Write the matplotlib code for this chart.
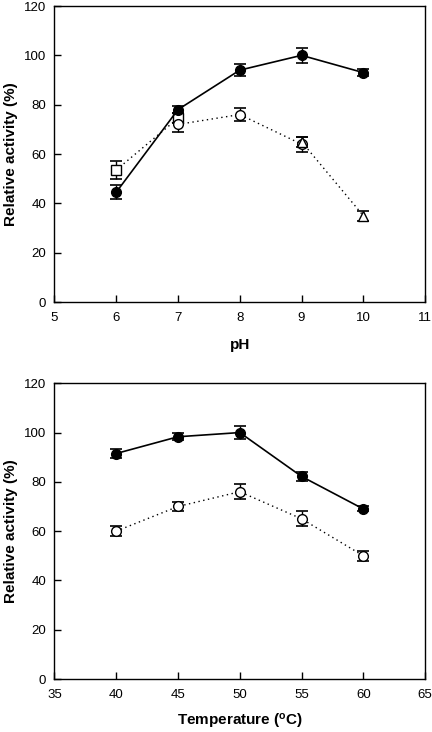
import matplotlib
matplotlib.use("Agg")
import matplotlib.pyplot as plt

plt.rcParams['font.family'] = ['Liberation Sans', 'DejaVu Sans']

# pH panel
ph = [6, 7, 8, 9, 10]
ph_act = [44.5, 78, 94, 100, 93]
ph_err = [2.8, 1.5, 2.5, 3.0, 1.5]

ph_sq = [6, 7]
ph_sq_act = [53.5, 74.5]
ph_sq_err = [3.5, 2.0]

ph_ci = [7, 8, 9]
ph_ci_act = [72, 76, 64]
ph_ci_err = [3.0, 2.5, 3.0]

ph_tr = [9, 10]
ph_tr_act = [65, 35]
ph_tr_err = [2.0, 2.0]

# temperature panel
temp = [40, 45, 50, 55, 60]
temp_act = [91.5, 98.3, 100, 82.2, 69]
temp_err = [2.0, 1.5, 2.5, 2.0, 1.0]
temp_open = [60, 70, 76, 65, 50]
temp_open_err = [2.0, 2.0, 3.0, 3.0, 2.0]

fig = plt.figure(figsize=(4.32, 7.32), dpi=100)
ax1 = fig.add_axes([0.126, 0.5874, 0.858, 0.4044])
ax2 = fig.add_axes([0.126, 0.0724, 0.858, 0.4040])

eb = dict(capsize=4.5, elinewidth=1, capthick=1.2, ecolor='black', markersize=7)
dots = (0, (1, 2.5))

def style(ax, xlim, xticks, xlabel, lpad):
    ax.set_xlim(*xlim)
    ax.set_ylim(0, 120)
    ax.set_xticks(xticks)
    ax.set_yticks(range(0, 121, 20))
    ax.tick_params(direction='in', length=5, width=1, labelsize=9.5)
    ax.tick_params(axis='x', pad=7)
    ax.tick_params(axis='y', pad=6)
    ax.set_xlabel(xlabel, fontsize=11, fontweight='bold', labelpad=lpad)
    ax.set_ylabel('Relative activity (%)', fontsize=11, fontweight='bold', labelpad=4)
    for s in ax.spines.values():
        s.set_linewidth(1)

ax1.errorbar(ph_sq, ph_sq_act, yerr=ph_sq_err, fmt='s', ls=dots, color='black',
             mfc='white', mec='black', lw=1, zorder=2, **eb)
ax1.errorbar(ph_ci, ph_ci_act, yerr=ph_ci_err, fmt='o', ls=dots, color='black',
             mfc='white', mec='black', lw=1, zorder=2, **eb)
ax1.errorbar(ph_tr, ph_tr_act, yerr=ph_tr_err, fmt='^', ls=dots, color='black',
             mfc='white', mec='black', lw=1, zorder=2, **eb)
ax1.errorbar(ph, ph_act, yerr=ph_err, fmt='o', ls='-', color='black',
             mfc='black', mec='black', lw=1.2, zorder=3, **eb)
style(ax1, (5, 11), range(5, 12), 'pH', 10)

ax2.errorbar(temp, temp_open, yerr=temp_open_err, fmt='o', ls=dots, color='black',
             mfc='white', mec='black', lw=1, zorder=2, **eb)
ax2.errorbar(temp, temp_act, yerr=temp_err, fmt='o', ls='-', color='black',
             mfc='black', mec='black', lw=1.2, zorder=3, **eb)
style(ax2, (35, 65), range(35, 66, 5), r'Temperature ($\mathregular{^{o}}$C)', 8)

fig.savefig('out.png', dpi=100)
